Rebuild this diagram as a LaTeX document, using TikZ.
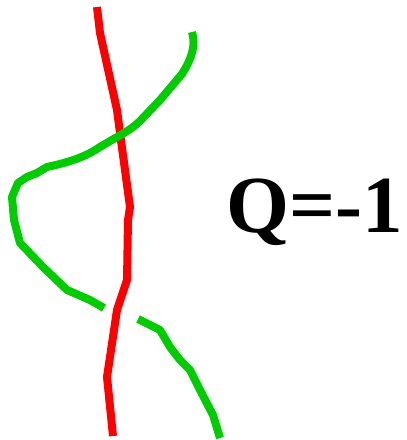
\documentclass[tikz,border=0pt]{standalone}
\usepackage{fontspec}
\setmainfont{Liberation Serif}
\definecolor{kred}{RGB}{255,0,0}
\definecolor{kgreen}{RGB}{0,204,0}
\begin{document}
\begin{tikzpicture}[x=1pt,y=-1pt,
  redstrand/.style={draw=kred,line width=8pt,line join=round},
  greenstrand/.style={draw=kgreen,line width=8pt,line join=round}]
\useasboundingbox (0,0) rectangle (407,440);
% red strand
\draw[redstrand] (97,7) -- (100,33) -- (117,110) -- (120,133) -- (130,207) -- (128,220) -- (127,280) -- (117,310) -- (107,377) -- (113,436);
% green strand, upper part (over the red)
\draw[greenstrand] (192,32) .. controls (196,45) and (192,58) .. (182,74) -- (160,100) -- (140,121) .. controls (130,131) and (118,136) .. (100,147) .. controls (88,155) and (75,161) .. (47,167) -- (37,173) -- (27,177) -- (18,183) -- (12,197) -- (14,220) -- (20,243) -- (43,267) -- (67,290) -- (90,300) -- (104,308);
% green strand, lower part
\draw[greenstrand] (138,319) -- (160,330) -- (170,347) -- (180,360) -- (190,370) -- (200,390) -- (213,415) -- (220,438);
\node[anchor=base west,inner sep=0pt,font=\fontsize{81}{81}\selectfont\bfseries] (q) at (226,232) {Q=-1};
\end{tikzpicture}
\end{document}
